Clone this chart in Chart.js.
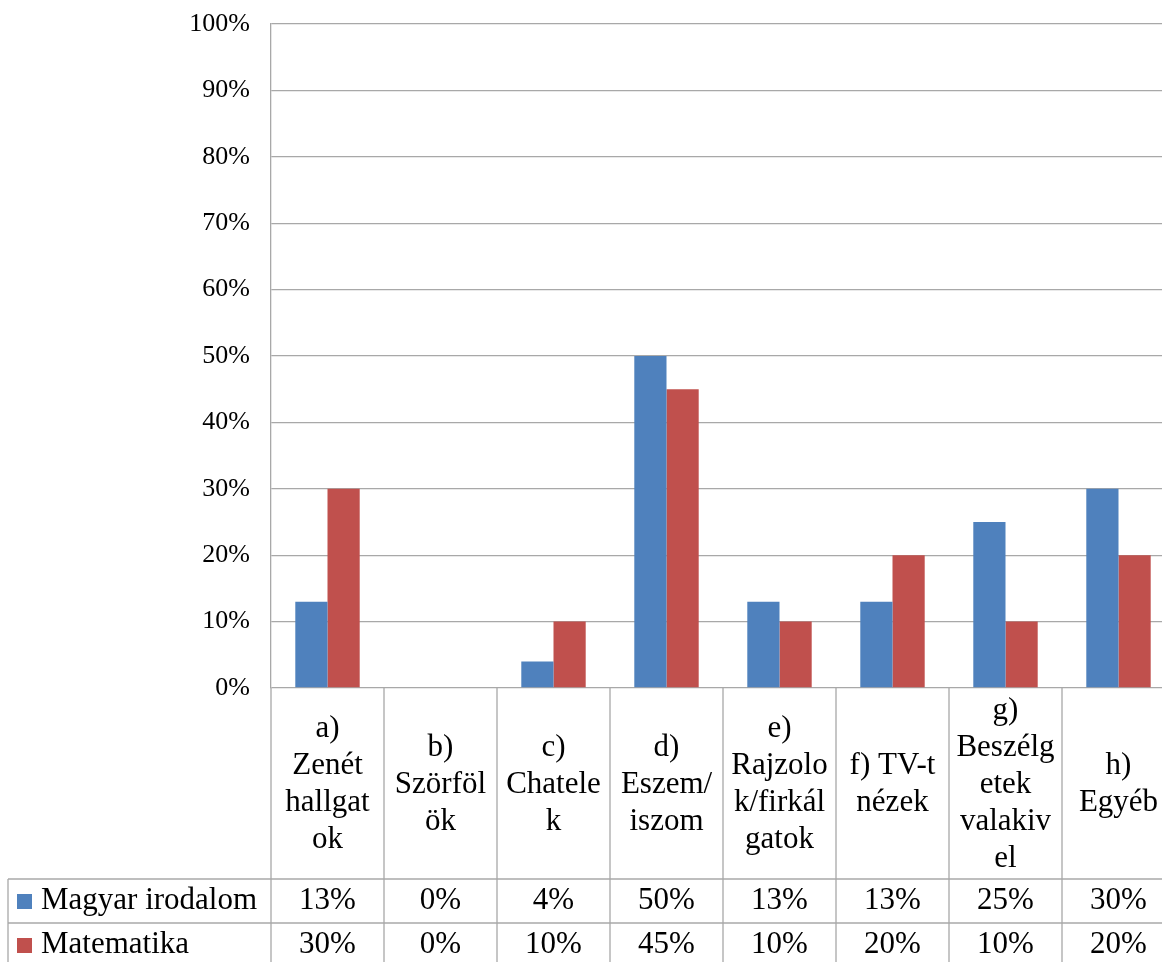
<!DOCTYPE html>
<html>
<head>
<meta charset="utf-8">
<script src="https://cdn.jsdelivr.net/npm/chart.js@4"></script>
<style>
  html, body { margin: 0; padding: 0; background: #fff; overflow: hidden; }
  #wrap { width: 1176px; height: 962px; }
</style>
</head>
<body>
<div id="wrap"><canvas id="chart" width="1176" height="962"></canvas></div>
<script>
// Category labels, already split into lines the way the original wraps them
const categories = [
  ['a)', 'Zenét', 'hallgat', 'ok'],
  ['b)', 'Szörföl', 'ök'],
  ['c)', 'Chatele', 'k'],
  ['d)', 'Eszem/', 'iszom'],
  ['e)', 'Rajzolo', 'k/firkál', 'gatok'],
  ['f) TV-t', 'nézek'],
  ['g)', 'Beszélg', 'etek', 'valakiv', 'el'],
  ['h)', 'Egyéb']
];

const seriesNames = ['Magyar irodalom', 'Matematika'];
const magyar = [13, 0, 4, 50, 13, 13, 25, 30];
const matek = [30, 0, 10, 45, 10, 20, 10, 20];
const yTicks = [0, 10, 20, 30, 40, 50, 60, 70, 80, 90, 100];

const BLUE = '#4f81bd';
const RED = '#c0504d';
const GRID = '#a8a8a8';
const FONT = "'Liberation Serif', 'Times New Roman', serif";

// Table under the plot: category label cells + the data rows with legend keys
const tablePlugin = {
  id: 'dataTable',
  afterDraw(chart) {
    const ctx = chart.ctx;
    const area = chart.chartArea;
    const x = chart.scales.x;
    const step = x.getPixelForValue(1) - x.getPixelForValue(0);
    const bottom = chart.height;
    const labelBottom = 879;
    const rowH = 44;
    const tableLeft = 8;

    ctx.save();
    ctx.strokeStyle = GRID;
    ctx.lineWidth = 1.3;

    // horizontal row lines
    [labelBottom, labelBottom + rowH].forEach(y => {
      ctx.beginPath();
      ctx.moveTo(tableLeft, y);
      ctx.lineTo(area.right, y);
      ctx.stroke();
    });

    // left border of the table
    ctx.beginPath();
    ctx.moveTo(tableLeft, labelBottom);
    ctx.lineTo(tableLeft, bottom);
    ctx.stroke();

    // column dividers from the axis down to the bottom
    for (let i = 0; i <= categories.length; i++) {
      const px = x.getPixelForValue(i) - step / 2;
      ctx.beginPath();
      ctx.moveTo(px, area.bottom);
      ctx.lineTo(px, bottom);
      ctx.stroke();
    }

    ctx.fillStyle = '#000';
    ctx.textAlign = 'center';
    ctx.textBaseline = 'middle';
    ctx.font = '31px ' + FONT;

    // category labels, centred vertically in their cells
    const lineH = 37;
    const midY = (area.bottom + labelBottom) / 2 + 1;
    categories.forEach((lines, i) => {
      const cx = x.getPixelForValue(i);
      const y0 = midY - (lines.length - 1) * lineH / 2;
      lines.forEach((t, j) => ctx.fillText(t, cx, y0 + j * lineH));
    });

    // data rows
    const rows = [magyar, matek];
    const colors = [BLUE, RED];
    rows.forEach((vals, r) => {
      const cy = labelBottom + rowH * r + rowH / 2;
      vals.forEach((v, i) => {
        ctx.fillText(v + '%', x.getPixelForValue(i), cy);
      });
      ctx.fillStyle = colors[r];
      ctx.fillRect(17, cy - 7, 15, 15);
      ctx.fillStyle = '#000';
      ctx.textAlign = 'left';
      ctx.fillText(seriesNames[r], 41, cy);
      ctx.textAlign = 'center';
    });

    ctx.restore();
  }
};

new Chart(document.getElementById('chart').getContext('2d'), {
  type: 'bar',
  data: {
    labels: categories.map(c => c.join(' ')),
    datasets: [
      { label: seriesNames[0], data: magyar, backgroundColor: BLUE },
      { label: seriesNames[1], data: matek, backgroundColor: RED }
    ]
  },
  options: {
    responsive: false,
    animation: false,
    layout: { padding: { top: 24, right: 1, bottom: 274, left: 0 } },
    categoryPercentage: 0.57,
    barPercentage: 1,
    plugins: {
      legend: { display: false },
      tooltip: { enabled: false }
    },
    scales: {
      x: {
        display: false,
        offset: true
      },
      y: {
        min: 0,
        max: 100,
        // fixed axis width, and no extra room reserved for the end labels
        afterFit: s => {
          s.width = 271;
          s.paddingTop = 0;
          s.paddingBottom = 0;
        },
        afterBuildTicks: s => { s.ticks = yTicks.map(v => ({ value: v })); },
        border: { display: true, color: GRID, width: 1.3 },
        grid: { color: GRID, lineWidth: 1.3, drawTicks: false },
        ticks: {
          padding: 21,
          color: '#000',
          font: { family: FONT, size: 26 },
          callback: v => v + '%'
        }
      }
    }
  },
  plugins: [tablePlugin]
});
</script>
</body>
</html>
